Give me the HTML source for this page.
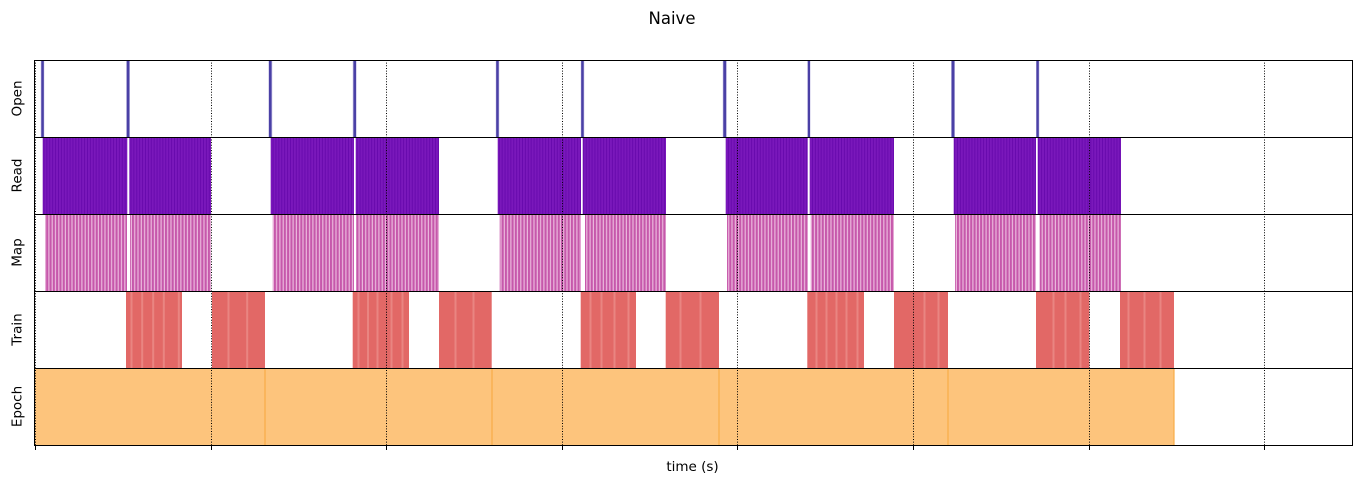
<!DOCTYPE html>
<html>
<head>
<meta charset="utf-8">
<style>
html,body{margin:0;padding:0;background:#fff;}
svg{display:block;}
text{font-family:"DejaVu Sans","Liberation Sans",sans-serif;fill:#000;}
</style>
</head>
<body>
<svg width="1361" height="484" viewBox="0 0 1361 484" xmlns="http://www.w3.org/2000/svg">
<defs>
  <pattern id="readPat" patternUnits="userSpaceOnUse" x="0" y="0" width="2.9" height="10">
    <rect x="0" y="0" width="2.9" height="10" fill="#7a18bb"/>
    <rect x="0" y="0" width="0.9" height="10" fill="#6608ac"/>
  </pattern>
  <pattern id="mapPat" patternUnits="userSpaceOnUse" x="0" y="0" width="3.3" height="10">
    <rect x="0" y="0" width="3.3" height="10" fill="#ebb8dd"/>
    <rect x="0" y="0" width="2.1" height="10" fill="#c658ab"/>
  </pattern>
</defs>

<rect x="0" y="0" width="1361" height="484" fill="#fff"/>

<!-- Title -->
<text x="672" y="24" font-size="16.5" text-anchor="middle">Naive</text>

<!-- Epoch row -->
<rect x="35" y="368" width="1139.5" height="77" fill="#fdc47c"/>
<g stroke="#f8ac48" stroke-width="1.2">
  <line x1="265" y1="368" x2="265" y2="445"/>
  <line x1="492" y1="368" x2="492" y2="445"/>
  <line x1="719" y1="368" x2="719" y2="445"/>
  <line x1="948" y1="368" x2="948" y2="445"/>
  <line x1="1174" y1="368" x2="1174" y2="445"/>
</g>

<!-- Train row -->
<g fill="#e26866">
  <rect x="126" y="291" width="56" height="77"/>
  <rect x="212" y="291" width="53" height="77"/>
  <rect x="352.7" y="291" width="56.3" height="77"/>
  <rect x="439" y="291" width="52.7" height="77"/>
  <rect x="580.7" y="291" width="55.3" height="77"/>
  <rect x="665.7" y="291" width="53.3" height="77"/>
  <rect x="807.3" y="291" width="56.7" height="77"/>
  <rect x="894" y="291" width="54" height="77"/>
  <rect x="1036" y="291" width="53.3" height="77"/>
  <rect x="1120" y="291" width="54" height="77"/>
</g>
<g fill="#e98581">
  <rect x="130.5" y="291" width="2" height="77"/>
  <rect x="141.2" y="291" width="2" height="77"/>
  <rect x="152.2" y="291" width="2" height="77"/>
  <rect x="162.8" y="291" width="2" height="77"/>
  <rect x="177.8" y="291" width="2" height="77"/>
  <rect x="227.5" y="291" width="2" height="77"/>
  <rect x="246.2" y="291" width="2" height="77"/>
  <rect x="357.5" y="291" width="2" height="77"/>
  <rect x="367" y="291" width="2" height="77"/>
  <rect x="376.5" y="291" width="2" height="77"/>
  <rect x="390.5" y="291" width="2" height="77"/>
  <rect x="401.5" y="291" width="2" height="77"/>
  <rect x="454.5" y="291" width="2" height="77"/>
  <rect x="472.5" y="291" width="2" height="77"/>
  <rect x="589.5" y="291" width="2" height="77"/>
  <rect x="600.5" y="291" width="2" height="77"/>
  <rect x="613.5" y="291" width="2" height="77"/>
  <rect x="627.5" y="291" width="2" height="77"/>
  <rect x="679.5" y="291" width="2" height="77"/>
  <rect x="699.5" y="291" width="2" height="77"/>
  <rect x="815.5" y="291" width="2" height="77"/>
  <rect x="825.5" y="291" width="2" height="77"/>
  <rect x="835.5" y="291" width="2" height="77"/>
  <rect x="845.5" y="291" width="2" height="77"/>
  <rect x="856.5" y="291" width="2" height="77"/>
  <rect x="923.5" y="291" width="2" height="77"/>
  <rect x="937.5" y="291" width="2" height="77"/>
  <rect x="1052.5" y="291" width="2" height="77"/>
  <rect x="1064.5" y="291" width="2" height="77"/>
  <rect x="1079.5" y="291" width="2" height="77"/>
  <rect x="1127.5" y="291" width="2" height="77"/>
  <rect x="1143.5" y="291" width="2" height="77"/>
  <rect x="1159.5" y="291" width="2" height="77"/>
</g>

<!-- Map row -->
<g fill="url(#mapPat)">
  <rect x="45" y="214" width="82" height="77"/>
  <rect x="130" y="214" width="81" height="77"/>
  <rect x="272.7" y="214" width="81.3" height="77"/>
  <rect x="356" y="214" width="83" height="77"/>
  <rect x="499.7" y="214" width="81.3" height="77"/>
  <rect x="585" y="214" width="81" height="77"/>
  <rect x="727" y="214" width="81" height="77"/>
  <rect x="810.7" y="214" width="83.3" height="77"/>
  <rect x="955" y="214" width="81" height="77"/>
  <rect x="1039.7" y="214" width="81.3" height="77"/>
</g>

<!-- Read row -->
<g fill="url(#readPat)">
  <rect x="42.7" y="137" width="84.6" height="77"/>
  <rect x="129.3" y="137" width="81.7" height="77"/>
  <rect x="270.7" y="137" width="83.3" height="77"/>
  <rect x="355.7" y="137" width="83.3" height="77"/>
  <rect x="497.7" y="137" width="83.3" height="77"/>
  <rect x="582.7" y="137" width="83.3" height="77"/>
  <rect x="725.7" y="137" width="82" height="77"/>
  <rect x="809.7" y="137" width="84.3" height="77"/>
  <rect x="953.7" y="137" width="82.3" height="77"/>
  <rect x="1037.7" y="137" width="83.3" height="77"/>
</g>

<!-- Open row -->
<g fill="#cdc9e8">
  <rect x="40.7" y="60" width="3.6" height="77"/>
  <rect x="126" y="60" width="4" height="77"/>
  <rect x="268.3" y="60" width="4" height="77"/>
  <rect x="352.7" y="60" width="4" height="77"/>
  <rect x="495.7" y="60" width="3.6" height="77"/>
  <rect x="580.7" y="60" width="3.6" height="77"/>
  <rect x="722.7" y="60" width="4.2" height="77"/>
  <rect x="807.3" y="60" width="3.2" height="77"/>
  <rect x="951" y="60" width="4" height="77"/>
  <rect x="1036" y="60" width="3.4" height="77"/>
</g>
<g fill="#4a40a6">
  <rect x="41.3" y="60" width="2.5" height="77"/>
  <rect x="126.8" y="60" width="2.6" height="77"/>
  <rect x="269" y="60" width="2.6" height="77"/>
  <rect x="353.4" y="60" width="2.6" height="77"/>
  <rect x="496.2" y="60" width="2.5" height="77"/>
  <rect x="581.2" y="60" width="2.5" height="77"/>
  <rect x="723.3" y="60" width="2.8" height="77"/>
  <rect x="807.8" y="60" width="2.2" height="77"/>
  <rect x="951.6" y="60" width="2.8" height="77"/>
  <rect x="1036.4" y="60" width="2.4" height="77"/>
</g>

<!-- Grid (dotted) -->
<g stroke="#000" stroke-width="1" stroke-dasharray="1,1.65">
  <line x1="35.5" y1="60" x2="35.5" y2="445"/>
  <line x1="211.5" y1="60" x2="211.5" y2="445"/>
  <line x1="386.5" y1="60" x2="386.5" y2="445"/>
  <line x1="562.5" y1="60" x2="562.5" y2="445"/>
  <line x1="737.5" y1="60" x2="737.5" y2="445"/>
  <line x1="913.5" y1="60" x2="913.5" y2="445"/>
  <line x1="1089.5" y1="60" x2="1089.5" y2="445"/>
  <line x1="1264.5" y1="60" x2="1264.5" y2="445"/>
</g>

<!-- Axes frames -->
<g fill="none" stroke="#000" stroke-width="1">
  <rect x="34.5" y="60.5" width="1318" height="77"/>
  <rect x="34.5" y="137.5" width="1318" height="77"/>
  <rect x="34.5" y="214.5" width="1318" height="77"/>
  <rect x="34.5" y="291.5" width="1318" height="77"/>
  <rect x="34.5" y="368.5" width="1318" height="77"/>
</g>

<!-- Ticks -->
<g stroke="#000" stroke-width="1">
  <line x1="35.5" y1="445" x2="35.5" y2="450"/>
  <line x1="211.5" y1="445" x2="211.5" y2="450"/>
  <line x1="386.5" y1="445" x2="386.5" y2="450"/>
  <line x1="562.5" y1="445" x2="562.5" y2="450"/>
  <line x1="737.5" y1="445" x2="737.5" y2="450"/>
  <line x1="913.5" y1="445" x2="913.5" y2="450"/>
  <line x1="1089.5" y1="445" x2="1089.5" y2="450"/>
  <line x1="1264.5" y1="445" x2="1264.5" y2="450"/>
</g>

<!-- Y labels -->
<g font-size="13.5" text-anchor="middle">
  <text transform="translate(21.5,98.5) rotate(-90)">Open</text>
  <text transform="translate(21.5,175.5) rotate(-90)">Read</text>
  <text transform="translate(21.5,252.5) rotate(-90)">Map</text>
  <text transform="translate(21.5,329.5) rotate(-90)">Train</text>
  <text transform="translate(21.5,406.5) rotate(-90)">Epoch</text>
</g>

<!-- X label -->
<text x="692.5" y="471" font-size="13.5" text-anchor="middle">time (s)</text>
</svg>
</body>
</html>
